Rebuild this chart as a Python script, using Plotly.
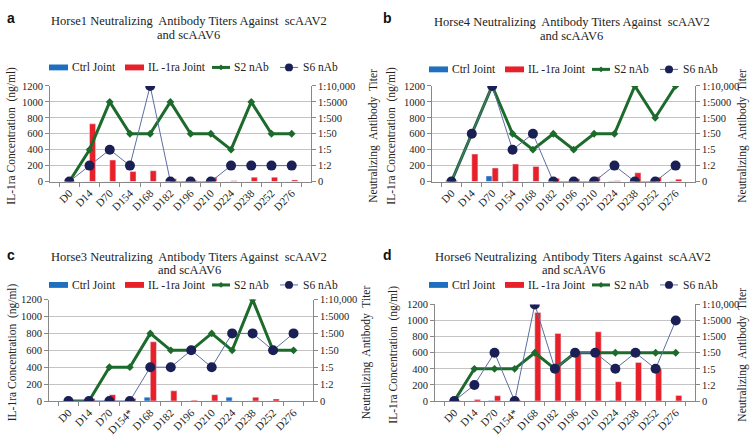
import plotly.graph_objects as go

DAYS_A = ["D0", "D14", "D70", "D154", "D168", "D182", "D196", "D210", "D224", "D238", "D252", "D276"]
DAYS_C = ["D0", "D14", "D70", "D154*", "D168", "D182", "D196", "D210", "D224", "D238", "D252", "D276"]
TITER_LABELS = ["0", "1:2", "1:5", "1:50", "1:500", "1:5000", "1:10,000"]
LEFT_TICKS = [0, 200, 400, 600, 800, 1000, 1200]
SERIES_NAMES = ["Ctrl Joint", "IL -1ra Joint", "S2 nAb", "S6 nAb"]

H1_CTRL = [0, 0, 0, 0, 0, 0, 0, 0, 0, 0, 0, 0]
H1_IL = [0, 725, 270, 125, 135, 35, 15, 55, 10, 55, 55, 20]
H1_S2 = ["0", "1:5", "1:5000", "1:50", "1:50", "1:5000", "1:50", "1:50", "1:5", "1:5000", "1:50", "1:50"]
H1_S6 = ["0", "1:2", "1:5", "1:2", "1:10,000", "0", "0", "0", "1:2", "1:2", "1:2", "1:2"]

H4_CTRL = [10, 0, 70, 8, 0, 0, 0, 0, 8, 0, 5, 8]
H4_IL = [10, 345, 170, 220, 190, 40, 35, 60, 10, 110, 55, 30]
H4_S2 = ["0", "1:50", "1:10,000", "1:50", "1:5", "1:50", "1:5", "1:50", "1:50", "1:10,000", "1:500", "1:10,000"]
H4_S6 = ["0", "1:50", "1:10,000", "1:5", "1:50", "0", "0", "0", "1:2", "0", "0", "1:2"]

H3_CTRL = [0, 0, 0, 0, 45, 0, 0, 0, 45, 0, 0, 0]
H3_IL = [0, 30, 75, 30, 700, 120, 10, 75, 0, 45, 25, 0]
H3_S2 = ["0", "0", "1:5", "1:5", "1:500", "1:50", "1:50", "1:500", "1:50", "1:10,000", "1:50", "1:50"]
H3_S6 = ["0", "0", "0", "0", "1:5", "1:5", "1:50", "1:5", "1:500", "1:500", "1:50", "1:500"]

H6_CTRL = [0, 0, 5, 0, 0, 0, 0, 0, 5, 0, 0, 0]
H6_IL = [5, 20, 65, 10, 1100, 840, 590, 860, 240, 480, 400, 70]
H6_S2 = ["0", "1:5", "1:5", "1:5", "1:50", "1:5", "1:50", "1:50", "1:50", "1:50", "1:50", "1:50"]
H6_S6 = ["0", "1:2", "1:50", "0", "1:10,000", "1:5", "1:50", "1:50", "1:5", "1:50", "1:5", "1:5000"]

PANELS = [
    ("a", "Horse1", DAYS_A, H1_CTRL, H1_IL, H1_S2, H1_S6),
    ("b", "Horse4", DAYS_A, H4_CTRL, H4_IL, H4_S2, H4_S6),
    ("c", "Horse3", DAYS_C, H3_CTRL, H3_IL, H3_S2, H3_S6),
    ("d", "Horse6", DAYS_C, H6_CTRL, H6_IL, H6_S2, H6_S6),
]

W, H = 754, 447
# pixel boxes (left, right, top, bottom) of each plot area
BOXES = [(50, 311, 83, 181), (432, 695, 83, 181), (49, 313, 302, 406), (435, 695, 307, 406)]
# per panel: legend start x / centre y, title line centres, letter pos, axis-title x
LEG = [(49, 64), (429, 66), (49, 287), (429, 287)]
TITLE_Y = [(16, 31), (17, 32), (258, 272), (258, 272)]
LETTER = [(5, 3), (381, 3), (5, 246), (381, 246)]
AXT = [(12, 374), (392, 743), (12, 366), (394, 743)]

SERIF = "Liberation Serif"
SANS = "Liberation Sans"
CTRL_C = "#1f6fc0"
IL_C = "#e8202a"
S2_C = "#1d6b2c"
S6_LINE = "#5b6f9e"
S6_MK = "#1a1f55"
TXT = "#222"


def px(x):
    return x / W


def py(y):
    return 1 - y / H


fig = go.Figure()
layout = dict(
    width=W, height=H, margin=dict(l=0, r=0, t=0, b=0),
    paper_bgcolor="white", plot_bgcolor="white",
    barmode="group", bargap=0.4, bargroupgap=0.0,
    font=dict(family=SERIF, size=11, color=TXT),
    showlegend=False,
)
annotations = []
shapes = []

for i, (letter, horse, days, ctrl, il, s2, s6) in enumerate(PANELS):
    l, r, t, b = BOXES[i]
    xs = "" if i == 0 else str(i + 1)
    yl = "" if i == 0 else str(2 * i + 1)
    yr = str(2 * i + 2)
    fig.add_bar(x=days, y=ctrl, name=SERIES_NAMES[0], marker_color=CTRL_C,
                xaxis="x" + xs, yaxis="y" + yl, offsetgroup="c%d" % i)
    fig.add_bar(x=days, y=il, name=SERIES_NAMES[1], marker_color=IL_C,
                xaxis="x" + xs, yaxis="y" + yl, offsetgroup="i%d" % i)
    fig.add_scatter(x=days, y=[TITER_LABELS.index(v) for v in s2], name=SERIES_NAMES[2],
                    mode="lines+markers", line=dict(color=S2_C, width=3),
                    marker=dict(symbol="diamond", size=6, color=S2_C),
                    xaxis="x" + xs, yaxis="y" + yr)
    fig.add_scatter(x=days, y=[TITER_LABELS.index(v) for v in s6], name=SERIES_NAMES[3],
                    mode="lines+markers", line=dict(color=S6_LINE, width=1),
                    marker=dict(symbol="circle", size=10, color=S6_MK),
                    xaxis="x" + xs, yaxis="y" + yr)

    layout["xaxis" + xs] = dict(
        domain=[px(l), px(r)], anchor="y" + yl, type="category",
        categoryorder="array", categoryarray=days,
        tickangle=-45, ticks="outside", tickson="boundaries", ticklen=4,
        tickcolor="#888", showline=True, linecolor="#888", showgrid=False,
        tickfont=dict(family=SERIF, size=11, color=TXT),
    )
    layout["yaxis" + yl] = dict(
        domain=[py(b), py(t)], anchor="x" + xs, range=[0, 1200], tickvals=LEFT_TICKS,
        ticks="outside", ticklen=4, tickcolor="#888", showline=True, linecolor="#888",
        showgrid=True, gridcolor="#c4c4c4", gridwidth=1, zeroline=False,
        tickfont=dict(family=SERIF, size=10.5, color=TXT),
    )
    layout["yaxis" + yr] = dict(
        overlaying="y" + yl, anchor="x" + xs, side="right",
        range=[0, 6], tickvals=list(range(len(TITER_LABELS))), ticktext=TITER_LABELS,
        ticks="outside", ticklen=4, tickcolor="#888", showline=True, linecolor="#888",
        showgrid=False, zeroline=False,
        tickfont=dict(family=SERIF, size=10.5, color=TXT),
    )

    # custom legend
    x0, cy = LEG[i]
    sw = [(0, 19, 22), (76, 95, 98), (163, 181, 184), (231, 249, 253)]
    for k, (a0, a1, tx) in enumerate(sw):
        if k < 2:
            shapes.append(dict(type="rect", xref="paper", yref="paper",
                               x0=px(x0 + a0), x1=px(x0 + a1), y0=py(cy + 3), y1=py(cy - 3),
                               fillcolor=[CTRL_C, IL_C][k], line=dict(width=0)))
        else:
            col = S2_C if k == 2 else S6_LINE
            shapes.append(dict(type="line", xref="paper", yref="paper",
                               x0=px(x0 + a0), x1=px(x0 + a1), y0=py(cy), y1=py(cy),
                               line=dict(color=col, width=3 if k == 2 else 1)))
            mx = x0 + (a0 + a1) / 2
            if k == 2:
                shapes.append(dict(type="path", xref="paper", yref="paper",
                                   path="M %f %f L %f %f L %f %f L %f %f Z" % (
                                       px(mx - 3), py(cy), px(mx), py(cy - 3),
                                       px(mx + 3), py(cy), px(mx), py(cy + 3)),
                                   fillcolor=S2_C, line=dict(width=0)))
            else:
                shapes.append(dict(type="circle", xref="paper", yref="paper",
                                   x0=px(mx - 4), x1=px(mx + 4), y0=py(cy + 4), y1=py(cy - 4),
                                   fillcolor=S6_MK, line=dict(width=0)))
        annotations.append(dict(
            text=SERIES_NAMES[k], x=px(x0 + tx), y=py(cy), xref="paper", yref="paper",
            xanchor="left", yanchor="middle", showarrow=False, borderpad=0,
            font=dict(family=SERIF, size=11.5, color=TXT),
        ))

    # title (two lines)
    title_lines = ["%s Neutralizing  Antibody Titers Against  scAAV2" % horse, "and scAAV6"]
    for line, ty in zip(title_lines, TITLE_Y[i]):
        annotations.append(dict(
            text=line, x=px((l + r) / 2 + 8), y=py(ty), xref="paper", yref="paper",
            xanchor="center", yanchor="middle", showarrow=False, borderpad=0,
            font=dict(family=SERIF, size=12.5, color=TXT),
        ))
    # panel letter
    annotations.append(dict(
        text="<b>%s</b>" % letter, x=px(LETTER[i][0]), y=py(LETTER[i][1]),
        xref="paper", yref="paper", xanchor="left", yanchor="top", showarrow=False,
        font=dict(family=SANS, size=14, color="#111"),
    ))
    # axis titles
    annotations.append(dict(
        text="IL-1ra Concentration  (ng/ml)", textangle=-90,
        x=px(AXT[i][0]), y=py((t + b) / 2 + 2), xref="paper", yref="paper",
        xanchor="center", yanchor="middle", showarrow=False,
        font=dict(family=SERIF, size=11.5, color=TXT),
    ))
    annotations.append(dict(
        text="Neutralizing  Antibody  Titer", textangle=-90,
        x=px(AXT[i][1]), y=py((t + b) / 2 + 2), xref="paper", yref="paper",
        xanchor="center", yanchor="middle", showarrow=False,
        font=dict(family=SERIF, size=11.5, color=TXT),
    ))

layout["annotations"] = annotations
layout["shapes"] = shapes
fig.update_layout(**layout)
fig.write_html("out.html", config={"displayModeBar": False},
               post_script="document.body.style.margin='0px';")
